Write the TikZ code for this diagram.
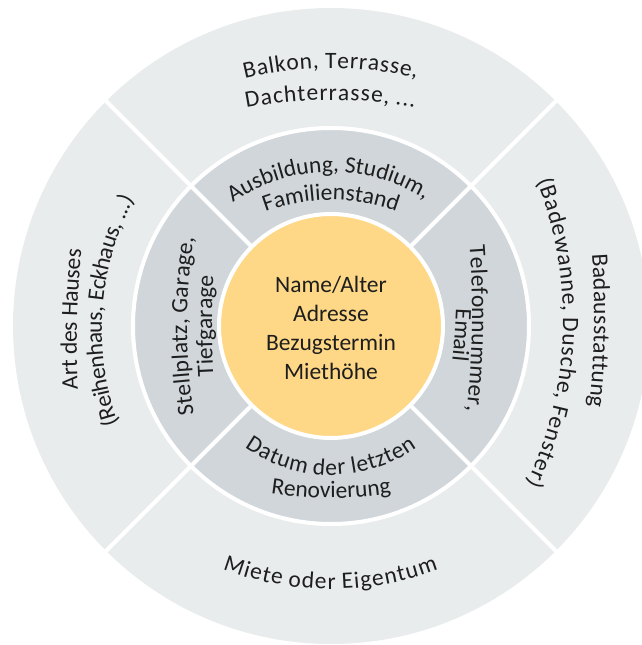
\documentclass[tikz,border=0pt]{standalone}
\usepackage{fontspec}
\setmainfont{Carlito}
\usetikzlibrary{decorations.text}
\definecolor{outerring}{RGB}{233,236,237}
\definecolor{innerring}{RGB}{208,214,218}
\definecolor{kerncol}{RGB}{254,216,134}
\definecolor{txt}{RGB}{30,30,30}
\newcommand{\ringfont}{\fontsize{23.5}{29}\selectfont\color{txt}}
% extra space after each letter of the arc texts
\newdimen\charkern
\XeTeXinterchartoks 0 4095 = {\kern\charkern}

\tikzset{
  arclabel/.style 2 args={decorate, decoration={text along path, text align=center,
      text={|\ringfont\XeTeXinterchartokenstate=1 \charkern=#1\relax|#2}}},
  divider/.style={white, line width=4pt},
}

% #1 letter spread, #2 angle of mid point, #3 its distance from the middle,
% #4 bend radius, #5 1 = clockwise / -1 = counterclockwise, #6 text
\newcommand{\arctext}[6]{%
  \path[arclabel={#1}{#6}, shift={({#2}:{#3-#4})}]
    ({#2+#5*min(80,16000/#4)}:#4) arc[start angle={#2+#5*min(80,16000/#4)}, end angle={#2-#5*min(80,16000/#4)}, radius=#4];}

\begin{document}
\begin{tikzpicture}[x=1pt,y=1pt]
  \useasboundingbox (-331,-319) rectangle (310,326);

  \fill[outerring] (0,0) circle[radius=318] ; %Outer ring
  \filldraw[fill=innerring, draw=white, line width=4pt] (0,0) circle[radius=198] ; %Middle ring
  \foreach \a in {45,135,225,315}
    \draw[divider] (0,0) -- (\a:330) ; %Sector borders
  \filldraw[fill=kerncol, draw=white, line width=4pt] (0,0) circle[radius=112] ; %Core

  \node[align=center, font=\ringfont] (kern) at (0,-2) {Name/Alter\\Adresse\\Bezugstermin\\Miethöhe};

  % outer ring labels
  \arctext{0.7pt}{90}{258}{360}{1}{Balkon, Terrasse,}
  \arctext{1pt}{90}{226}{450}{1}{Dachterrasse, ...}
  \arctext{-0.2pt}{178.5}{254}{900}{1}{Art des Hauses}
  \arctext{-0.5pt}{176}{229}{280}{1}{(Reihenhaus, Eckhaus, ...)}
  \arctext{0.3pt}{-1}{263}{900}{1}{Badausstattung}
  \arctext{0.8pt}{-2}{232}{380}{1}{(Badewanne, Dusche, Fenster)}
  \arctext{1.1pt}{270}{263}{307}{-1}{Miete oder Eigentum}

  % middle ring labels
  \arctext{0pt}{91}{154}{174}{1}{Ausbildung, Studium,}
  \arctext{0pt}{90}{126}{187}{1}{Familienstand}
  \arctext{0.3pt}{180}{144}{580}{1}{Stellplatz, Garage,}
  \arctext{0pt}{180}{119}{900}{1}{Tiefgarage}
  \arctext{0.4pt}{-1}{141}{900}{1}{Telefonnummer,}
  \arctext{0pt}{-4}{124}{900}{1}{Email}
  \arctext{0.7pt}{270}{149}{149}{-1}{Datum der letzten}
  \arctext{0pt}{270}{172}{400}{-1}{Renovierung}
\end{tikzpicture}
\end{document}
